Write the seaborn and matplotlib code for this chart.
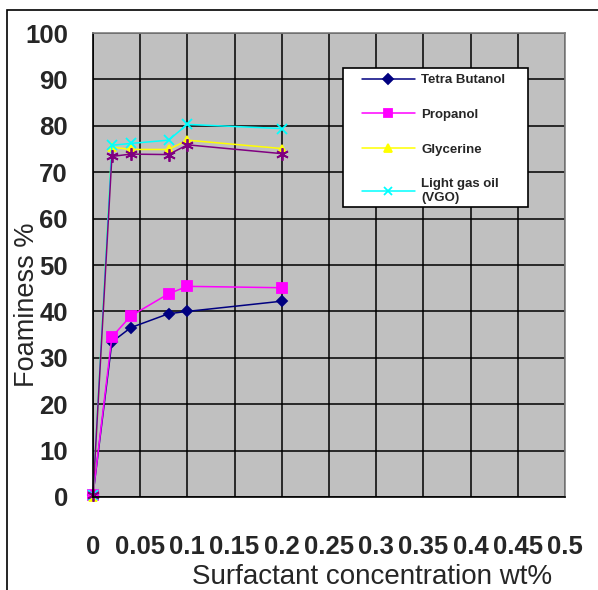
import matplotlib
matplotlib.use('Agg')
import matplotlib.pyplot as plt
import seaborn as sns
from matplotlib.patches import Rectangle

# surfactant concentration, wt%
conc = [0, 0.02, 0.04, 0.08, 0.1, 0.2]

tetra_butanol = [0.5, 33.4, 36.5, 39.5, 40.0, 42.2]
propanol = [0.5, 34.5, 39.0, 43.8, 45.4, 45.1]
glycerine = [0.0, 75.4, 74.9, 74.9, 76.9, 75.1]
light_gas_oil = [0.5, 75.8, 76.2, 76.9, 80.3, 79.4]
series5 = [0.5, 73.4, 73.9, 73.8, 75.9, 74.0]

labels = ['Tetra Butanol', 'Propanol', 'Glycerine', 'Light gas oil\n(VGO)']
x_ticks = [0, 0.05, 0.1, 0.15, 0.2, 0.25, 0.3, 0.35, 0.4, 0.45, 0.5]
x_ticklabels = ['0', '0.05', '0.1', '0.15', '0.2', '0.25', '0.3', '0.35', '0.4', '0.45', '0.5']

sns.set_style('white')
plt.rcParams['font.family'] = ['Liberation Sans', 'DejaVu Sans']

fig = plt.figure(figsize=(5.98, 5.90), dpi=100)
ax = fig.add_axes([93 / 598, 1 - 497 / 590, 472 / 598, 464 / 590])
ax.set_facecolor('#C0C0C0')

styles = [
  (tetra_butanol, '#000080', 'D', 5.5, labels[0]),
  (propanol, '#FF00FF', 's', 7, labels[1]),
  (glycerine, '#FFFF00', '^', 6, labels[2]),
  (light_gas_oil, '#00FFFF', 'x', 7, labels[3]),
  (series5, '#800080', (6, 2, 0), 9, None),
]
handles = []
for vals, col, mk, ms, lab in styles:
  sns.lineplot(x=conc, y=vals, color=col, marker=mk, markersize=ms,
               markeredgecolor=col, markerfacecolor=col, markeredgewidth=1.3,
               linewidth=1.1, ax=ax, clip_on=False, legend=False)
  if lab is not None:
    handles.append((ax.lines[-1], lab))

ax.set_xlim(0, 0.5)
ax.set_ylim(0, 100)
ax.set_xticks(x_ticks)
ax.set_xticklabels(x_ticklabels)
ax.set_yticks(range(0, 101, 10))
ax.grid(True, color='black', linewidth=1.1)
ax.set_axisbelow(True)
for s in ['top', 'right']:
  ax.spines[s].set_color('#808080')
  ax.spines[s].set_linewidth(1.2)
for s in ['left', 'bottom']:
  ax.spines[s].set_color('black')
  ax.spines[s].set_linewidth(1.2)
ax.tick_params(axis='y', direction='out', length=6, width=1.2, color='black', pad=12, labelsize=18.5)
ax.tick_params(axis='x', direction='out', length=5, width=1.2, color='black', pad=22, labelsize=18.5)
for t in ax.get_xticklabels() + ax.get_yticklabels():
  t.set_fontweight('bold')

# legend box drawn separately so the padding can match
fig.add_artist(Rectangle((343 / 598, 1 - 207 / 590), 185 / 598, 139 / 590, transform=fig.transFigure,
                         facecolor='white', edgecolor='black', linewidth=1.2, zorder=4))
leg = fig.legend([h for h, _ in handles], [l for _, l in handles],
                 loc='upper left', bbox_to_anchor=(362 / 598, 1 - 74 / 590),
                 frameon=False, prop={'size': 9.5, 'weight': 'bold'}, handlelength=4.0,
                 labelspacing=1.7, borderpad=0, handletextpad=0.5,
                 borderaxespad=0, markerscale=0.85)
leg.set_zorder(5)

fig.text(372 / 598, 1 - 577 / 590, 'Surfactant concentration wt%', ha='center', va='center', fontsize=20)
fig.text(27 / 598, 1 - 305 / 590, 'Foaminess %', ha='center', va='center', rotation=90, fontsize=19.5)

fig.add_artist(Rectangle((7 / 598, -0.1), 2, 1.1 - 10 / 590, transform=fig.transFigure,
                         fill=False, edgecolor='black', linewidth=1.2))

fig.savefig('out.png', dpi=100)
